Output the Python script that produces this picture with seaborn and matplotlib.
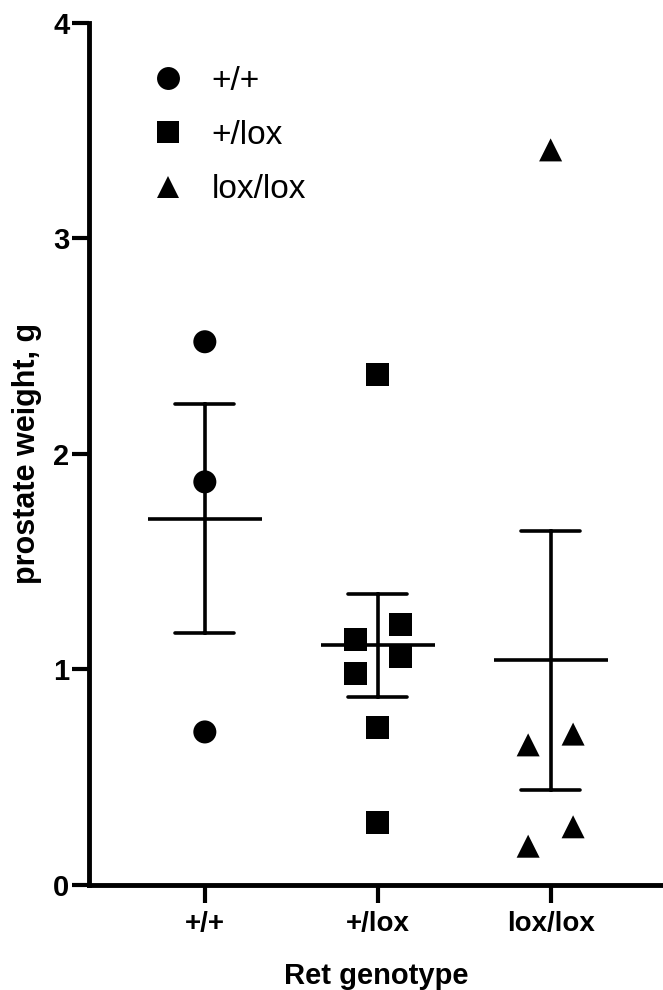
import seaborn as sns
import matplotlib.pyplot as plt
from matplotlib.lines import Line2D
import pandas as pd

# prostate weights (g) per Ret genotype
genotypes = ['+/+', '+/lox', 'lox/lox']
wt_weight = [2.52, 1.87, 0.71]
het_weight = [2.37, 1.14, 1.21, 1.06, 0.98, 0.73, 0.29]
ko_weight = [3.41, 0.65, 0.70, 0.27, 0.18]

# scatter arrangement inside each column (-1 left, 0 centre, 1 right)
wt_side = [0, 0, 0]
het_side = [0, -1, 1, 1, -1, 0, 0]
ko_side = [0, -1, 1, 1, -1]

y_ticks = [0, 1, 2, 3, 4]
marker_map = {'+/+': 'o', '+/lox': 's', 'lox/lox': '^'}

frames = []
for i, (g, w, s) in enumerate(zip(genotypes, [wt_weight, het_weight, ko_weight],
                                  [wt_side, het_side, ko_side])):
    frames.append(pd.DataFrame({'genotype': g, 'code': i, 'weight': w, 'side': s}))
df = pd.concat(frames, ignore_index=True)
df['xpos'] = df['code'] + df['side'] * 0.13

sns.set_style('ticks', {'axes.edgecolor': 'black', 'text.color': 'black',
                        'axes.labelcolor': 'black', 'xtick.color': 'black',
                        'ytick.color': 'black'})
plt.rcParams['font.family'] = ['Liberation Sans', 'DejaVu Sans']

fig = plt.figure(figsize=(6.63, 9.9), dpi=100)
ax = fig.add_axes([89 / 663, 1 - 885 / 990, 1 - 89 / 663, (885 - 22.7) / 990])

# mean +/- SEM
sns.pointplot(data=df, x='code', y='weight', native_scale=True, orient='x',
              errorbar='se', capsize=0.34, color='black', markers='_',
              markersize=82, markeredgewidth=2.6, linestyles='none',
              err_kws={'linewidth': 2.6}, ax=ax)

sns.scatterplot(data=df, x='xpos', y='weight', style='genotype', markers=marker_map,
                color='black', s=275, linewidth=0, legend=False, ax=ax, zorder=3)

ax.set_xlim(-0.67, 2.65)
ax.set_ylim(0, 4)
ax.set_xticks(range(len(genotypes)), genotypes)
ax.set_yticks(y_ticks, [str(t) for t in y_ticks])
sns.despine(ax=ax)
for side in ['left', 'bottom']:
    ax.spines[side].set_linewidth(3.5)
ax.tick_params(axis='y', length=12, width=3, pad=2)
ax.tick_params(axis='x', length=13, width=3, pad=6)
for lab in ax.get_yticklabels():
    lab.set_fontweight('bold')
    lab.set_fontsize(21)
    lab.set_family(['Liberation Sans Narrow', 'Liberation Sans', 'DejaVu Sans'])
for lab in ax.get_xticklabels():
    lab.set_fontweight('bold')
    lab.set_fontsize(20)

ax.set_xlabel('Ret genotype', fontsize=21, fontweight='bold', labelpad=18)
ax.set_ylabel('prostate weight, g', fontsize=22, fontweight='bold', labelpad=8)

handles = [Line2D([], [], marker=marker_map[g], color='black', linestyle='none',
                  markersize=16.5, markeredgewidth=0) for g in genotypes]
ax.legend(handles, genotypes, loc='upper left', bbox_to_anchor=(0.1085, 0.950),
          frameon=False, fontsize=24, handlelength=1, handletextpad=0.8,
          labelspacing=0.70, borderpad=0, borderaxespad=0)

plt.savefig('out.png', dpi=100)
